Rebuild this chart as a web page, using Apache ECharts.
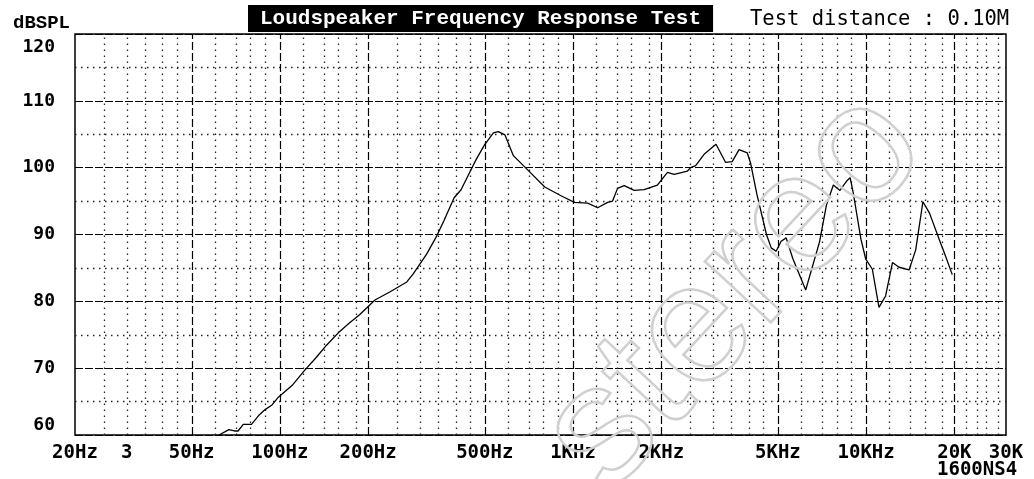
<!DOCTYPE html>
<html>
<head>
<meta charset="utf-8">
<script src="https://cdn.jsdelivr.net/npm/echarts@6/dist/echarts.min.js"></script>
<style>
html, body { margin: 0; padding: 0; background: #fff; }
#chart { width: 1034px; height: 479px; }
</style>
</head>
<body>
<div id="chart"></div>
<script>
// measured response, frequency in Hz / level in dB SPL
var freqs = [62, 67, 70, 72, 75, 80, 85, 89, 94, 99,
    110, 121, 133, 144, 160, 173, 187, 211, 237, 271,
    285, 317, 343, 363, 393, 415, 443, 467, 499, 535,
    556, 586, 626, 703, 801, 910, 1011, 1122, 1213, 1312,
    1364, 1419, 1495, 1617, 1748, 1940, 2100, 2213, 2457, 2520,
    2620, 2800, 3075, 3313, 3492, 3685, 3932, 4033, 4240, 4570,
    4745, 4930, 5130, 5335, 5620, 6220, 6935, 7320, 7730, 8140,
    8580, 8820, 9030, 9600, 9970, 10500, 11060, 11650, 12300, 12950,
    14010, 14760, 15620, 16450, 17770, 18680, 19670];
var levels = [60.0, 60.8, 60.6, 60.6, 61.6, 61.6, 63.0, 63.8, 64.5, 65.7,
    67.4, 69.6, 71.6, 73.4, 75.5, 76.8, 78.0, 80.2, 81.4, 82.9,
    84.1, 87.1, 89.8, 92.1, 95.5, 96.7, 99.2, 101.2, 103.4, 105.2,
    105.4, 104.9, 101.8, 99.6, 97.1, 95.8, 94.8, 94.7, 94.0, 94.8,
    95.0, 96.9, 97.3, 96.6, 96.7, 97.4, 99.3, 99.0, 99.5, 100.0,
    100.3, 102.0, 103.5, 100.8, 100.9, 102.7, 102.2, 100.7, 96.0, 90.0,
    88.0, 87.5, 89.0, 89.5, 86.4, 81.7, 88.9, 94.4, 97.4, 96.6,
    98.0, 98.5, 96.3, 89.3, 86.3, 84.8, 79.1, 80.8, 85.8, 85.1,
    84.7, 87.7, 94.9, 93.2, 89.2, 86.7, 84.0];

var tickFreqs = [20, 30, 50, 100, 200, 500, 1000, 2000, 5000, 10000, 20000, 30000];
var tickLabels = ['20Hz', '3', '50Hz', '100Hz', '200Hz', '500Hz', '1KHz', '2KHz', '5KHz', '10KHz', '20K', '30K'];
var majorFreqs = [50, 100, 200, 500, 1000, 2000, 5000, 10000, 20000];
var minorFreqs = [25, 30, 35, 40, 45, 60, 70, 80, 90, 120, 140, 160, 180,
    250, 300, 350, 400, 450, 600, 700, 800, 900, 1200, 1400, 1600, 1800,
    2500, 3000, 3500, 4000, 4500, 6000, 7000, 8000, 9000, 12000, 14000, 16000, 18000,
    22000, 24000, 26000, 28000];

var lg = function (f) { return Math.log10(f); };

var curve = freqs.map(function (f, i) { return [lg(f), levels[i]]; });

var gridLines = [];
majorFreqs.forEach(function (f) {
    gridLines.push({ xAxis: lg(f), lineStyle: { type: [8, 3], color: '#000', width: 1.2 } });
});
minorFreqs.forEach(function (f) {
    gridLines.push({ xAxis: lg(f), lineStyle: { type: [1.5, 4.5], color: '#222', width: 1.3 } });
});

var yLab = { fontSize: 18, fontFamily: 'DejaVu Sans Mono', fontWeight: 'bold', color: '#000' };

var chart = echarts.init(document.getElementById('chart'));

chart.setOption({
    animation: false,
    backgroundColor: '#fff',
    title: [{
        text: 'Loudspeaker Frequency Response Test',
        left: 248, top: 5,
        backgroundColor: '#000',
        padding: [3, 12, 3, 12],
        textStyle: { color: '#fff', fontFamily: 'Liberation Mono', fontWeight: 'bold', fontSize: 21 }
    }, {
        text: 'Test distance : 0.10M',
        left: 745, top: 4,
        textStyle: { color: '#000', fontFamily: 'DejaVu Sans Mono', fontWeight: 'normal', fontSize: 20.5 }
    }, {
        text: 'dBSPL',
        left: 8, top: 9,
        textStyle: { color: '#000', fontFamily: 'Liberation Mono', fontWeight: 'bold', fontSize: 19 }
    }, {
        text: '1600NS4',
        left: 937, top: 461,
        padding: 0,
        textStyle: { color: '#000', fontFamily: 'DejaVu Sans Mono', fontWeight: 'bold', fontSize: 19 }
    }],
    grid: {
        left: 75, right: 28, top: 34, bottom: 44,
        show: true, borderColor: '#000', borderWidth: 1.5
    },
    xAxis: {
        type: 'value',
        min: lg(20), max: lg(30000),
        axisLine: { show: false },
        axisTick: { show: false },
        splitLine: { show: false },
        axisLabel: {
            customValues: tickFreqs.map(lg),
            margin: 9,
            fontSize: 19,
            fontFamily: 'DejaVu Sans Mono', fontWeight: 'bold', color: '#000',
            formatter: function (v) {
                for (var i = 0; i < tickFreqs.length; i++) {
                    if (Math.abs(lg(tickFreqs[i]) - v) < 1e-6) return tickLabels[i];
                }
                return '';
            }
        }
    },
    yAxis: {
        type: 'value',
        min: 60, max: 120, interval: 10,
        axisLine: { show: false },
        axisTick: { show: false },
        axisLabel: {
            margin: 20,
            fontSize: yLab.fontSize, fontFamily: yLab.fontFamily, fontWeight: 'bold', color: '#000',
            // top and bottom labels sit inside the frame
            formatter: function (v) {
                if (v === 120) return '{lo|' + v + '}';
                if (v === 60) return '{hi|' + v + '}';
                return String(v);
            },
            rich: {
                lo: Object.assign({ padding: [26, 0, 0, 0] }, yLab),
                hi: Object.assign({ padding: [0, 0, 20, 0] }, yLab)
            }
        },
        splitLine: { lineStyle: { type: [8, 2], color: '#000', width: 1.2 } },
        minorTick: { show: false, splitNumber: 2 },
        minorSplitLine: { show: true, lineStyle: { type: [1.5, 4.5], color: '#222', width: 1.3 } }
    },
    graphic: [{
        type: 'text',
        x: 735, y: 292,
        rotation: 47 * Math.PI / 180,
        z: 50,
        silent: true,
        style: {
            text: 'stereo',
            font: '170px "Liberation Sans"',
            align: 'center', verticalAlign: 'middle',
            fill: 'rgba(0,0,0,0)',
            stroke: '#d0d0d0',
            lineWidth: 2.5
        }
    }],
    series: [{
        type: 'line',
        data: curve,
        showSymbol: false,
        z: 10,
        lineStyle: { color: '#000', width: 1.3 },
        markLine: {
            silent: true,
            symbol: ['none', 'none'],
            label: { show: false },
            data: gridLines
        }
    }]
});
</script>
</body>
</html>
